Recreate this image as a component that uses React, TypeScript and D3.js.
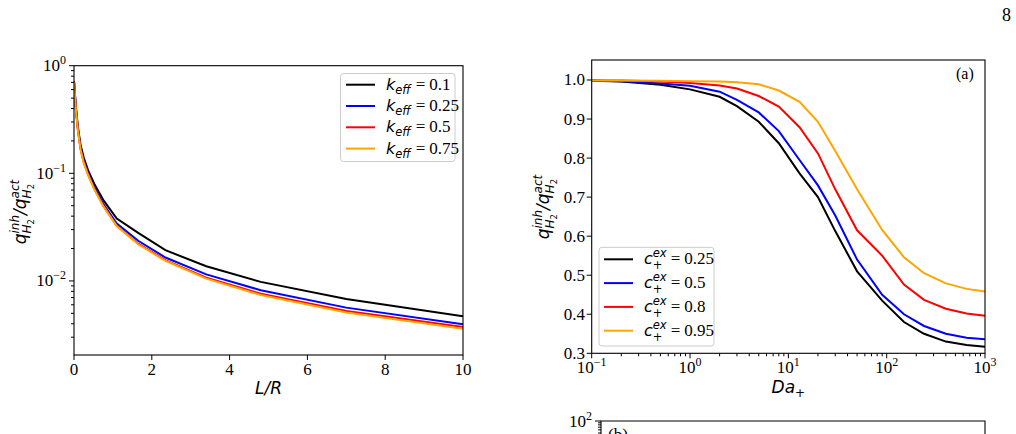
import { useEffect, useRef } from 'react'
import * as d3 from 'd3'

// left panel: inhibited / active flux ratio along the pore, one curve per k_eff
const lrValues = [0, 0.05, 0.1, 0.17, 0.25, 0.36, 0.52, 0.76, 1.1, 1.65, 2.35, 3.4, 4.8, 7, 10]
const kEff010 = [0.72, 0.41, 0.27, 0.182, 0.14, 0.107, 0.08, 0.056, 0.038, 0.028, 0.0193, 0.0137, 0.0098, 0.0068, 0.0047]
const kEff025 = [0.715, 0.395, 0.26, 0.172, 0.132, 0.101, 0.0745, 0.0515, 0.0341, 0.0236, 0.0165, 0.0115, 0.0082, 0.00565, 0.00395]
const kEff050 = [0.71, 0.385, 0.252, 0.167, 0.127, 0.098, 0.072, 0.0495, 0.0325, 0.0222, 0.0156, 0.0107, 0.0076, 0.00526, 0.00373]
const kEff075 = [0.71, 0.38, 0.25, 0.165, 0.125, 0.097, 0.071, 0.049, 0.0323, 0.0219, 0.0154, 0.0105, 0.0074, 0.0051, 0.0036]
const kEffLabels = ['0.1', '0.25', '0.5', '0.75']
const lrTicks = [0, 2, 4, 6, 8, 10]

// right panel (a): ratio against Damkohler number, one curve per c+ex
const daValues = [0.1, 0.2, 0.5, 1, 2, 3, 5, 8, 13, 20, 30, 50, 90, 150, 240, 400, 650, 1000]
const cEx025 = [0.998, 0.996, 0.988, 0.976, 0.957, 0.933, 0.893, 0.838, 0.761, 0.7, 0.613, 0.51, 0.435, 0.38, 0.35, 0.33, 0.321, 0.317]
const cEx050 = [0.999, 0.997, 0.991, 0.985, 0.97, 0.949, 0.917, 0.869, 0.795, 0.73, 0.653, 0.54, 0.45, 0.4, 0.37, 0.35, 0.34, 0.336]
const cEx080 = [0.999, 0.999, 0.996, 0.992, 0.986, 0.978, 0.959, 0.932, 0.879, 0.812, 0.72, 0.615, 0.55, 0.476, 0.437, 0.414, 0.402, 0.396]
const cEx095 = [0.999, 0.999, 0.998, 0.997, 0.996, 0.994, 0.989, 0.973, 0.944, 0.893, 0.818, 0.72, 0.616, 0.546, 0.505, 0.479, 0.465, 0.458]
const cExLabels = ['0.25', '0.5', '0.8', '0.95']
const ratioTicks = [0.3, 0.4, 0.5, 0.6, 0.7, 0.8, 0.9, 1.0]

const colors = ['#000000', '#0000ff', '#ff0000', '#ffa500']

const SERIF = '"Liberation Serif", "Times New Roman", serif'
const SANS = '"DejaVu Sans", sans-serif'

type Atom = {
  t: string
  f?: 'it' | 'rm' | 'serif'
  s?: number
  dy?: number
  gap?: number
  mark?: boolean
  back?: boolean
  after?: boolean
}

// lays out a small run of math text, with sub/superscripts stacked via mark/back
const drawMath = (parent: any, x: number, y: number, atoms: Atom[], anchor = 'start') => {
  const g = parent.append('g')
  let cursor = 0
  let mark = 0
  let maxX = 0
  atoms.forEach((a) => {
    if (a.mark) mark = cursor
    if (a.back) cursor = mark
    if (a.after) cursor = maxX
    cursor += a.gap || 0
    const t = g
      .append('text')
      .attr('x', cursor)
      .attr('y', a.dy || 0)
      .attr('font-family', a.f === 'serif' ? SERIF : SANS)
      .attr('font-style', a.f === 'it' ? 'italic' : 'normal')
      .attr('font-size', a.s || 17)
      .attr('fill', '#000')
      .text(a.t)
    cursor += (t.node() as SVGTextElement).getComputedTextLength()
    maxX = Math.max(maxX, cursor)
  })
  const shift = anchor === 'middle' ? -maxX / 2 : anchor === 'end' ? -maxX : 0
  g.attr('transform', `translate(${x + shift},${y})`)
  return g
}

const pow10 = (e: number): Atom[] => [
  { t: '10', f: 'serif', s: 17 },
  { t: e < 0 ? `\u2212${-e}` : `${e}`, f: 'serif', s: 12, dy: -7 }
]

const ratioLabel: Atom[] = [
  { t: 'q', f: 'it', s: 17 },
  { t: 'inh', f: 'it', s: 12, dy: -7, mark: true },
  { t: 'H', f: 'it', s: 12, dy: 5, back: true },
  { t: '2', f: 'rm', s: 8.5, dy: 7.5 },
  { t: '/', f: 'it', s: 17, after: true },
  { t: 'q', f: 'it', s: 17 },
  { t: 'act', f: 'it', s: 12, dy: -7, mark: true },
  { t: 'H', f: 'it', s: 12, dy: 5, back: true },
  { t: '2', f: 'rm', s: 8.5, dy: 7.5 }
]

const Figure = () => {
  const ref = useRef<SVGSVGElement>(null)

  useEffect(() => {
    const svg = d3.select(ref.current)
    svg.selectAll('*').remove()

    const tick = (x1: number, y1: number, x2: number, y2: number, w = 1) =>
      svg.append('line').attr('x1', x1).attr('y1', y1).attr('x2', x2).attr('y2', y2)
        .attr('stroke', '#000').attr('stroke-width', w)

    // page number
    svg.append('text').attr('x', 1002).attr('y', 21).attr('font-family', SERIF)
      .attr('font-size', 18).text('8')

    // ---------- left panel ----------
    const xL = d3.scaleLinear().domain([0, 10]).range([74, 463])
    const yL = d3.scaleLog().domain([0.00205, 1]).range([355, 65.7])

    const defs = svg.append('defs')
    defs.append('clipPath').attr('id', 'clipL').append('rect')
      .attr('x', 74).attr('y', 65.7).attr('width', 389).attr('height', 289.3)
    defs.append('clipPath').attr('id', 'clipR').append('rect')
      .attr('x', 591.7).attr('y', 60).attr('width', 393.3).attr('height', 293.3)

    const lineL = d3.line<number>().x((_, i) => xL(lrValues[i])).y((d) => yL(d))
    const gL = svg.append('g').attr('clip-path', 'url(#clipL)')
    ;[kEff010, kEff025, kEff050, kEff075].forEach((s, i) => {
      gL.append('path').attr('d', lineL(s)).attr('fill', 'none')
        .attr('stroke', colors[i]).attr('stroke-width', 2)
    })

    lrTicks.forEach((v) => {
      tick(xL(v), 355, xL(v), 360)
      svg.append('text').attr('x', xL(v)).attr('y', 375).attr('text-anchor', 'middle')
        .attr('font-family', SERIF).attr('font-size', 17).text(v)
    })
    yL.ticks().forEach((v) => {
      const e = Math.round(Math.log10(v))
      const major = Math.abs(Math.log10(v) - e) < 1e-9
      tick(74, yL(v), major ? 69 : 71, yL(v))
      if (major) drawMath(svg, 66, yL(v) + 5.5, pow10(e), 'end')
    })
    svg.append('rect').attr('x', 74).attr('y', 65.7).attr('width', 389).attr('height', 289.3)
      .attr('fill', 'none').attr('stroke', '#000').attr('stroke-width', 1.1)

    drawMath(svg, xL(5), 394, [{ t: 'L/R', f: 'it', s: 17 }], 'middle')
    drawMath(svg.append('g').attr('transform', 'translate(26,212) rotate(-90)'), 0, 0, ratioLabel, 'middle')

    // legend
    svg.append('rect').attr('x', 340.5).attr('y', 73.5).attr('width', 114.5).attr('height', 88)
      .attr('rx', 3).attr('fill', '#fff').attr('fill-opacity', 0.8).attr('stroke', '#cccccc')
    kEffLabels.forEach((lab, i) => {
      const y = 84.7 + i * 21.3
      svg.append('line').attr('x1', 346).attr('x2', 375).attr('y1', y).attr('y2', y)
        .attr('stroke', colors[i]).attr('stroke-width', 2)
      drawMath(svg, 386, y + 5, [
        { t: 'k', f: 'it', s: 16 },
        { t: 'eff', f: 'it', s: 11.5, dy: 4 },
        { t: '=', f: 'serif', s: 17, gap: 5 },
        { t: lab, f: 'serif', s: 17, gap: 4 }
      ])
    })

    // ---------- right panel (a) ----------
    const xR = d3.scaleLog().domain([0.1, 1000]).range([591.7, 985])
    const yR = d3.scaleLinear().domain([0.3, 1.0512]).range([353.3, 60])

    const lineR = d3.line<number>().x((_, i) => xR(daValues[i])).y((d) => yR(d))
    const gR = svg.append('g').attr('clip-path', 'url(#clipR)')
    ;[cEx025, cEx050, cEx080, cEx095].forEach((s, i) => {
      gR.append('path').attr('d', lineR(s)).attr('fill', 'none')
        .attr('stroke', colors[i]).attr('stroke-width', 2)
    })

    xR.ticks().forEach((v) => {
      const e = Math.round(Math.log10(v))
      const major = Math.abs(Math.log10(v) - e) < 1e-9
      tick(xR(v), 353.3, xR(v), major ? 358.3 : 356.3)
      if (major) drawMath(svg, xR(v), 373, pow10(e), 'middle')
    })
    ratioTicks.forEach((v) => {
      tick(591.7, yR(v), 586.7, yR(v))
      svg.append('text').attr('x', 585).attr('y', yR(v) + 5.5).attr('text-anchor', 'end')
        .attr('font-family', SERIF).attr('font-size', 17).text(v.toFixed(1))
    })
    svg.append('rect').attr('x', 591.7).attr('y', 60).attr('width', 393.3).attr('height', 293.3)
      .attr('fill', 'none').attr('stroke', '#000').attr('stroke-width', 1.1)
    svg.append('text').attr('x', 956).attr('y', 79).attr('font-family', SERIF)
      .attr('font-size', 16).text('(a)')

    drawMath(svg, (591.7 + 985) / 2, 393, [
      { t: 'Da', f: 'it', s: 17 },
      { t: '+', f: 'rm', s: 12, dy: 4 }
    ], 'middle')
    drawMath(svg.append('g').attr('transform', 'translate(549,207) rotate(-90)'), 0, 0, ratioLabel, 'middle')

    svg.append('rect').attr('x', 599).attr('y', 247.3).attr('width', 115).attr('height', 98.7)
      .attr('rx', 3).attr('fill', '#fff').attr('fill-opacity', 0.8).attr('stroke', '#cccccc')
    cExLabels.forEach((lab, i) => {
      const y = 259.3 + i * 23.8
      svg.append('line').attr('x1', 604).attr('x2', 633).attr('y1', y).attr('y2', y)
        .attr('stroke', colors[i]).attr('stroke-width', 2)
      drawMath(svg, 644, y + 5, [
        { t: 'c', f: 'it', s: 16 },
        { t: 'ex', f: 'it', s: 11.5, dy: -7, mark: true },
        { t: '+', f: 'rm', s: 11.5, dy: 5, back: true },
        { t: '=', f: 'serif', s: 17, gap: 4, after: true },
        { t: lab, f: 'serif', s: 17, gap: 4 }
      ])
    })

    // ---------- top edge of panel (b), cut off by the page ----------
    const yB = d3.scaleLog().domain([10, 100]).range([461, 421])
    svg.append('path').attr('d', `M601,440V421H985V440`).attr('fill', 'none')
      .attr('stroke', '#000').attr('stroke-width', 1.1)
    yB.ticks().forEach((v) => {
      const major = v === 100
      tick(601, yB(v), major ? 595 : 598, yB(v))
    })
    drawMath(svg, 592, 426.5, pow10(2), 'end')
    svg.append('text').attr('x', 608).attr('y', 440).attr('font-family', SERIF)
      .attr('font-size', 17).text('(b)')
  }, [])

  return (
    <svg
      ref={ref}
      width={1016}
      height={434}
      style={{ position: 'absolute', left: 0, top: 0, background: '#fff' }}
    />
  )
}

export default function App() {
  return <Figure />
}
